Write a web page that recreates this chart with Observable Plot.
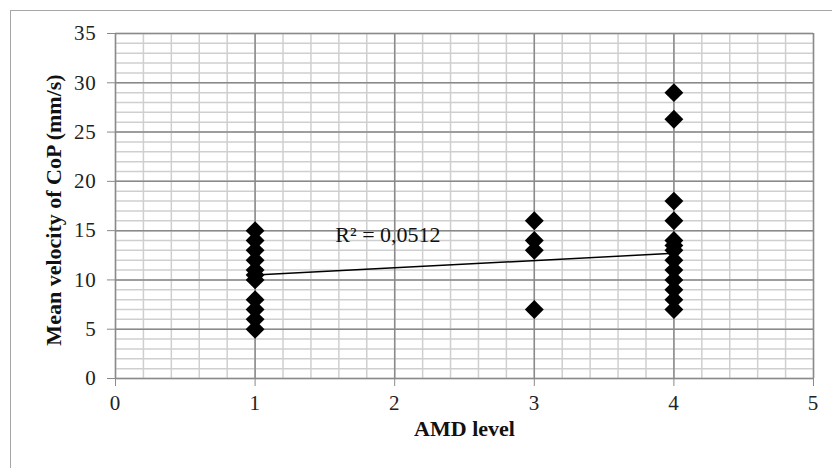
<!DOCTYPE html>
<html><head><meta charset="utf-8">
<script src="https://cdn.jsdelivr.net/npm/d3@7"></script>
<script src="https://cdn.jsdelivr.net/npm/@observablehq/plot@0.6"></script>
<style>
body{margin:0;background:#fff;}
#wrap{position:relative;width:832px;height:468px;overflow:hidden;background:#fff;}
#frame{position:absolute;left:10px;top:10px;width:900px;height:600px;border:1.5px solid #a6a6a6;box-sizing:border-box;pointer-events:none;}
#chart{position:absolute;left:0;top:0;}
g[aria-label="r2-label"] text{letter-spacing:1.6px;}
g[aria-label="x-title"] text{letter-spacing:2px;}
g[aria-label="y-title"] text{letter-spacing:0.3px;}
g[aria-label="x-axis tick label"] text, g[aria-label="y-axis tick label"] text{letter-spacing:0.8px;}
</style></head><body><div id="wrap"><div id="chart"></div><div id="frame"></div></div>
<script>
// AMD level 1, 3, 4 — mean velocity of CoP (mm/s)
const velocityLevel1 = [15, 14, 13, 12, 11, 10.5, 10, 8, 7, 6, 5];
const velocityLevel3 = [16, 14, 13, 7];
const velocityLevel4 = [29, 26.3, 18, 16, 14, 13.5, 13, 12, 11, 10, 9, 8, 7];
const trendX = [1, 4];
const trendY = [10.5, 12.7];
const rSquaredText = "R² = 0,0512";
const rSquaredPos = [1.575, 14.6];
const xTicks = [0, 1, 2, 3, 4, 5];
const yTicks = [0, 5, 10, 15, 20, 25, 30, 35];
const xMinor = d3.range(0, 5.0001, 0.2);
const yMinor = d3.range(0, 35.0001, 1);
const xTitle = "AMD level";
const yTitle = "Mean velocity of CoP (mm/s)";

const points = [
  ...velocityLevel1.map(v => ({level: 1, v})),
  ...velocityLevel3.map(v => ({level: 3, v})),
  ...velocityLevel4.map(v => ({level: 4, v}))
];
const trend = trendX.map((x, i) => ({x, y: trendY[i]}));

const minorColor = "#cfcfcf", majorColor = "#8a8a8a";

const chart = Plot.plot({
  width: 832, height: 468,
  marginLeft: 115, marginRight: 19, marginTop: 33, marginBottom: 90,
  style: {fontFamily: "'Liberation Serif', 'Times New Roman', serif", background: "transparent"},
  x: {domain: [0, 5]},
  y: {domain: [0, 35]},
  marks: [
    Plot.ruleX(xMinor, {stroke: minorColor, strokeWidth: 1.5}),
    Plot.ruleY(yMinor, {stroke: minorColor, strokeWidth: 1.5}),
    Plot.ruleX(xTicks, {stroke: majorColor, strokeWidth: 1.5}),
    Plot.ruleY(yTicks, {stroke: majorColor, strokeWidth: 1.5}),
    Plot.axisX(xTicks, {tickSize: 8, tickPadding: 9, fontSize: 21, stroke: majorColor, color: "#222", label: null, tickFormat: d => String(d)}),
    Plot.axisY(yTicks, {tickSize: 8, tickPadding: 11, fontSize: 21, stroke: majorColor, color: "#222", label: null, tickFormat: d => String(d)}),
    Plot.line(trend, {x: "x", y: "y", stroke: "#000", strokeWidth: 1.5}),
    Plot.dot(points, {x: "level", y: "v", symbol: "diamond2", r: 8.5, fill: "#000", stroke: "none"}),
    Plot.text([rSquaredText], {x: () => rSquaredPos[0], y: () => rSquaredPos[1], text: d => d, textAnchor: "start", fontSize: 22, fill: "#111", ariaLabel: "r2-label"}),
    Plot.text([xTitle], {frameAnchor: "bottom", textAnchor: "middle", dy: 57, text: d => d, fontSize: 22, fontWeight: "bold", fill: "#111", ariaLabel: "x-title"}),
    Plot.text([yTitle], {frameAnchor: "left", textAnchor: "middle", dx: -62, dy: 4, rotate: -90, text: d => d, fontSize: 22, fontWeight: "bold", fill: "#111", ariaLabel: "y-title"})
  ]
});
document.getElementById("chart").appendChild(chart);
</script>
</body></html>
